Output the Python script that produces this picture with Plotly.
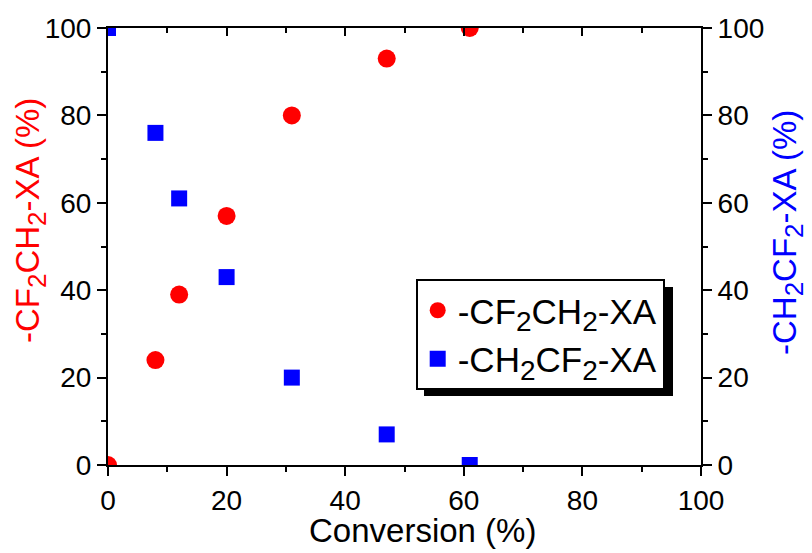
import plotly.graph_objects as go

conversion = [0, 8, 12, 20, 31, 47, 61]
cf2ch2 = [0, 24, 39, 57, 80, 93, 100]
ch2cf2 = [100, 76, 61, 43, 20, 7, 0]

FONT = "Liberation Sans, Arial, sans-serif"
W, H = 812, 553
L, R, T, B = 108, 111, 28, 88
pw, ph = W - L - R, H - T - B
LEGSIZE = 35

def lbl(a, b, size, suffix=""):
    s = int(size * 0.8)
    return (f"-{a}<sub><span style='font-size:{s}px'>2</span></sub>{b}"
            f"<sub><span style='font-size:{s}px'>2</span></sub>-XA{suffix}")

fig = go.Figure()
fig.add_trace(go.Scatter(x=conversion, y=cf2ch2, mode="markers", name=lbl("CF", "CH", LEGSIZE),
                         marker=dict(symbol="circle", size=18, color="#ff0000"), yaxis="y"))
fig.add_trace(go.Scatter(x=conversion, y=ch2cf2, mode="markers", name=lbl("CH", "CF", LEGSIZE),
                         marker=dict(symbol="square", size=16, color="#0000ff"), yaxis="y2"))

axcommon = dict(range=[0, 100], showline=True, linecolor="black", linewidth=2, showgrid=False,
                zeroline=False, tickfont=dict(family=FONT, size=28, color="black"))
fig.update_layout(
    width=W, height=H, margin=dict(l=L, r=R, t=T, b=B),
    paper_bgcolor="white", plot_bgcolor="white",
    xaxis=dict(**axcommon, dtick=20, ticks="outside", ticklen=9, tickwidth=2, tickcolor="black",
               minor=dict(dtick=10, ticks="outside", ticklen=5, tickwidth=2, tickcolor="black")),
    xaxis2=dict(range=[0, 100], overlaying="x", side="top", showline=True, linecolor="black", linewidth=2,
                showgrid=False, zeroline=False, showticklabels=False, dtick=20, ticks="inside", ticklen=8,
                tickwidth=2, tickcolor="black",
                minor=dict(dtick=10, ticks="inside", ticklen=5, tickwidth=2, tickcolor="black")),
    yaxis=dict(**axcommon, dtick=20, ticks="outside", ticklen=9, tickwidth=2, tickcolor="black",
               minor=dict(dtick=10, ticks="outside", ticklen=5, tickwidth=2, tickcolor="black")),
    yaxis2=dict(**axcommon, overlaying="y", side="right", dtick=20, ticks="outside", ticklen=9, tickwidth=2,
                tickcolor="black",
                minor=dict(dtick=10, ticks="outside", ticklen=5, tickwidth=2, tickcolor="black")),
    showlegend=True,
    legend=dict(x=(415.7 - L) / pw, y=(H - B - 279) / ph, xanchor="left", yanchor="top",
                bgcolor="white", bordercolor="black", borderwidth=2,
                font=dict(family=FONT, size=LEGSIZE, color="black"), tracegroupgap=0, itemwidth=30),
)
fig.add_trace(go.Scatter(x=[None], y=[None], xaxis="x2", showlegend=False))

# legend shadow
fig.add_shape(type="rect", xref="paper", yref="paper",
              x0=(424 - L) / pw, x1=(673 - L) / pw, y0=(H - B - 396) / ph, y1=(H - B - 287) / ph,
              fillcolor="black", line=dict(width=0), layer="above")

fig.add_annotation(text="Conversion (%)", xref="paper", yref="paper", x=(422 - L) / pw, y=(H - B - 530) / ph,
                   showarrow=False, font=dict(family=FONT, size=33, color="black"), xanchor="center", yanchor="middle")
fig.add_annotation(text=lbl("CF", "CH", 33, " (%)"), xref="paper", yref="paper",
                   x=(30 - L) / pw, y=(H - B - 221) / ph, textangle=-90, showarrow=False,
                   font=dict(family=FONT, size=33, color="#ff0000"), xanchor="center", yanchor="middle")
fig.add_annotation(text=lbl("CH", "CF", 33, " (%)"), xref="paper", yref="paper",
                   x=(787 - L) / pw, y=(H - B - 232) / ph, textangle=-90, showarrow=False,
                   font=dict(family=FONT, size=33, color="#0000ff"), xanchor="center", yanchor="middle")

fig.write_html("out.html")
